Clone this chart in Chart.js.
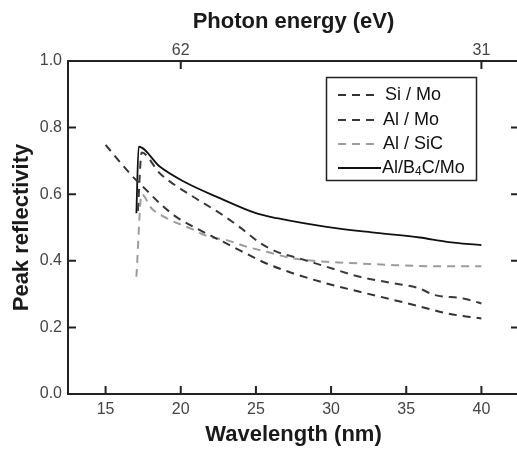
<!DOCTYPE html>
<html>
<head>
<meta charset="utf-8">
<script src="https://cdn.jsdelivr.net/npm/chart.js@4.4.1/dist/chart.umd.min.js"></script>
<style>
    html, body { margin: 0; padding: 0; background: #fff; overflow: hidden; }
    #wrap { position: relative; width: 530px; height: 455px; }
</style>
</head>
<body>
<div id="wrap"><canvas id="grafica"></canvas></div>
<script>
// DATOS
const siMoX = [15.0, 16.7, 17.7, 18.6, 19.7, 21.5, 22.6, 23.9, 25.7, 27.5, 29.7, 31.9, 34.2, 36.4, 37.7, 40.0];
const siMoY = [0.748, 0.658, 0.613, 0.573, 0.532, 0.487, 0.462, 0.432, 0.392, 0.362, 0.332, 0.307, 0.282, 0.257, 0.242, 0.227];

const alMoX = [17.15, 17.4, 18.6, 20.8, 22.6, 23.9, 25.3, 26.4, 27.9, 29.7, 31.9, 34.2, 35.8, 36.9, 38.8, 40.0];
const alMoY = [0.55, 0.725, 0.663, 0.593, 0.543, 0.502, 0.453, 0.427, 0.407, 0.382, 0.352, 0.332, 0.318, 0.297, 0.287, 0.272];

const alSiCX = [17.05, 17.4, 18.05, 19.05, 20.6, 21.9, 23.05, 24.4, 25.7, 27.5, 29.7, 31.9, 34.2, 36.4, 40.0];
const alSiCY = [0.352, 0.6, 0.558, 0.528, 0.498, 0.472, 0.462, 0.442, 0.427, 0.407, 0.397, 0.392, 0.387, 0.384, 0.384];

const alB4CMoX = [17.05, 17.2, 18.6, 20.2, 22.6, 25.0, 26.4, 29.7, 33.0, 35.9, 37.7, 40.0];
const alB4CMoY = [0.543, 0.743, 0.683, 0.638, 0.588, 0.543, 0.528, 0.502, 0.484, 0.470, 0.457, 0.447];

const xTicks = [15, 20, 25, 30, 35, 40];
const yTicks = [0.0, 0.2, 0.4, 0.6, 0.8, 1.0];
const energyTicks = [62, 31];   // eV, arriba
const series = ["Si / Mo", "Al / Mo", "Al / SiC", "Al/B4C/Mo"];

const FONT = "'Liberation Sans', Arial, Helvetica, sans-serif";
Chart.defaults.font.family = FONT;

function puntos(xs, ys) {
    return xs.map((x, i) => ({ x: x, y: ys[i] }));
}

// ticks hacia adentro en los cuatro ejes
const ticksAdentro = {
    id: 'ticksAdentro',
    afterDraw(chart) {
        const ctx = chart.ctx;
        const a = chart.chartArea;
        const L = 8;
        ctx.save();
        ctx.strokeStyle = '#222';
        ctx.lineWidth = 2;
        ctx.beginPath();
        xTicks.forEach(v => {
            const px = chart.scales.x.getPixelForValue(v);
            ctx.moveTo(px, a.bottom); ctx.lineTo(px, a.bottom - L);
        });
        chart.scales.x2.ticks.forEach(t => {
            const px = chart.scales.x2.getPixelForValue(t.value);
            ctx.moveTo(px, a.top); ctx.lineTo(px, a.top + L);
        });
        yTicks.slice(1, -1).forEach(v => {
            const py = chart.scales.y.getPixelForValue(v);
            ctx.moveTo(a.left, py); ctx.lineTo(a.left + L, py);
            ctx.moveTo(a.right, py); ctx.lineTo(a.right - L, py);
        });
        ctx.stroke();
        ctx.restore();
    }
};

// leyenda con caja (con subíndice en B4C)
const leyenda = {
    id: 'leyenda',
    afterDraw(chart) {
        const ctx = chart.ctx;
        const estilos = chart.data.datasets;
        const filas = [95, 120, 144, 168];
        ctx.save();
        ctx.strokeStyle = '#222';
        ctx.lineWidth = 1.5;
        ctx.strokeRect(326.5, 77.5, 150, 103);
        ctx.font = "18px " + FONT;
        ctx.fillStyle = '#111';
        ctx.textBaseline = 'middle';
        filas.forEach((y, i) => {
            const d = estilos[i];
            ctx.beginPath();
            ctx.strokeStyle = d.borderColor;
            ctx.lineWidth = d.borderWidth;
            ctx.setLineDash(d.borderDash || []);
            ctx.moveTo(338, y);
            ctx.lineTo(i === 3 ? 381 : 377, y);
            ctx.stroke();
            ctx.setLineDash([]);
        });
        ctx.textAlign = 'left';
        ctx.fillText(series[0], 385, filas[0]);
        ctx.fillText(series[1], 383, filas[1]);
        ctx.fillText(series[2], 383, filas[2]);
        // Al/B4C/Mo
        let x = 382;
        const y = filas[3];
        ctx.fillText("Al/B", x, y);
        x += ctx.measureText("Al/B").width;
        ctx.font = "12px " + FONT;
        ctx.fillText("4", x, y + 4);
        x += ctx.measureText("4").width;
        ctx.font = "18px " + FONT;
        ctx.fillText("C/Mo", x, y);
        ctx.restore();
    }
};

const ctx = document.getElementById("grafica").getContext("2d");
new Chart(ctx, {
    type: "line",
    data: {
        datasets: [
            {
                label: series[0],
                data: puntos(siMoX, siMoY),
                borderColor: '#333',
                borderWidth: 2,
                borderDash: [8, 6],
                pointRadius: 0,
                cubicInterpolationMode: 'monotone'
            },
            {
                label: series[1],
                data: puntos(alMoX, alMoY),
                borderColor: '#3a3a3a',
                borderWidth: 2,
                borderDash: [8, 6],
                pointRadius: 0,
                cubicInterpolationMode: 'monotone'
            },
            {
                label: series[2],
                data: puntos(alSiCX, alSiCY),
                borderColor: '#9c9c9c',
                borderWidth: 2,
                borderDash: [8, 6],
                pointRadius: 0,
                cubicInterpolationMode: 'monotone'
            },
            {
                label: series[3],
                data: puntos(alB4CMoX, alB4CMoY),
                borderColor: '#111',
                borderWidth: 1.8,
                pointRadius: 0,
                cubicInterpolationMode: 'monotone'
            }
        ]
    },
    options: {
        responsive: true,
        maintainAspectRatio: false,
        animation: false,
        layout: { padding: 0 },
        plugins: {
            legend: { display: false },
            tooltip: { enabled: false }
        },
        scales: {
            x: {
                type: 'linear',
                position: 'bottom',
                min: 12.5,
                max: 42.5,
                afterBuildTicks: s => { s.ticks = xTicks.map(v => ({ value: v })); },
                afterFit: s => { s.height = 61; },
                grid: { display: false, drawTicks: false },
                border: { display: true, color: '#222', width: 2 },
                ticks: { color: '#444', font: { size: 16 }, padding: 6, maxRotation: 0 },
                title: {
                    display: true,
                    text: 'Wavelength (nm)',
                    color: '#1a1a1a',
                    font: { size: 22, weight: 'bold' },
                    padding: { top: 0, bottom: 7 }
                }
            },
            x2: {
                type: 'linear',
                position: 'top',
                min: 12.5,
                max: 42.5,
                afterBuildTicks: s => { s.ticks = energyTicks.map(e => ({ value: 1240 / e })); },
                afterFit: s => { s.height = 61; },
                grid: { display: false, drawTicks: false },
                border: { display: true, color: '#222', width: 2 },
                ticks: {
                    color: '#444',
                    font: { size: 16 },
                    padding: 1,
                    maxRotation: 0,
                    callback: v => String(Math.round(1240 / v))
                },
                title: {
                    display: true,
                    text: 'Photon energy (eV)',
                    color: '#1a1a1a',
                    font: { size: 22, weight: 'bold' },
                    padding: { top: 9, bottom: 0 }
                }
            },
            y: {
                type: 'linear',
                position: 'left',
                min: 0,
                max: 1,
                afterBuildTicks: s => { s.ticks = yTicks.map(v => ({ value: v })); },
                afterFit: s => { s.width = 68; },
                grid: { display: false, drawTicks: false },
                border: { display: true, color: '#222', width: 2 },
                ticks: {
                    color: '#444',
                    font: { size: 16 },
                    padding: 6,
                    callback: v => Number(v).toFixed(1)
                },
                title: {
                    display: true,
                    text: 'Peak reflectivity',
                    color: '#1a1a1a',
                    font: { size: 22, weight: 'bold' },
                    padding: { top: 9, bottom: 0 }
                }
            },
            y2: {
                type: 'linear',
                position: 'right',
                min: 0,
                max: 1,
                afterFit: s => { s.width = 11; },
                grid: { display: false, drawTicks: false },
                border: { display: true, color: '#222', width: 2 },
                ticks: { display: false }
            }
        }
    },
    plugins: [ticksAdentro, leyenda]
});
</script>
</body>
</html>
